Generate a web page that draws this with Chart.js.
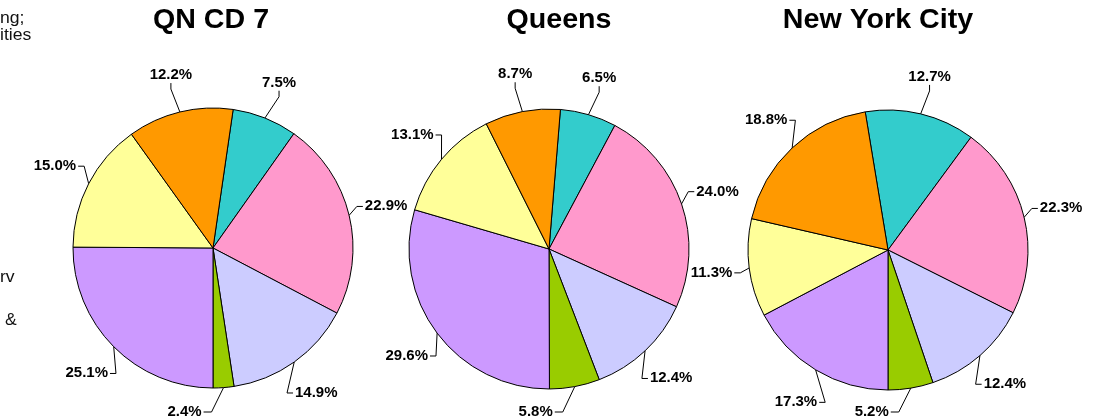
<!DOCTYPE html>
<html lang="en">
<head>
  <meta charset="UTF-8">
  <title>QN CD 7 / Queens / New York City</title>
  <script src="https://cdn.jsdelivr.net/npm/chart.js"></script>
  <style>
    body { margin: 0; background: #fff; }
    #wrap { position: relative; width: 1094px; height: 419px; overflow: hidden; }
    #wrap canvas { position: absolute; left: 0; top: 0; }
  </style>
</head>
<body>

  <div id="wrap">
    <canvas id="pie0" width="1094" height="419"></canvas>
    <canvas id="pie1" width="1094" height="419"></canvas>
    <canvas id="pie2" width="1094" height="419"></canvas>
  </div>

  <script>
    // legend is cropped off the left edge in the source, so the names are generic
    const categories = ['Category 1', 'Category 2', 'Category 3', 'Category 4', 'Category 5', 'Category 6', 'Category 7'];
    const areas = ['QN CD 7', 'Queens', 'New York City'];

    // shares in percent, same category order for every pie
    const qnCd7 = [7.5, 22.9, 14.9, 2.4, 25.1, 15.0, 12.2];
    const queens = [6.5, 24.0, 12.4, 5.8, 29.6, 13.1, 8.7];
    const nyc = [12.7, 22.3, 12.4, 5.2, 17.3, 11.3, 18.8];

    // visible tail ends of the legend text
    const legendBits = ['ng;', 'ities', 'rv', '&'];

    const colors = ['#33CCCC', '#FF99CC', '#CCCCFF', '#99CC00', '#CC99FF', '#FFFF99', '#FF9900'];
    const FONT = '"Liberation Sans", Arial, Helvetica, sans-serif';

    // where each pie sits (centre x, centre y) and its title x
    const panels = [
      { cx: 213, cy: 248, titleX: 211 },
      { cx: 549, cy: 249, titleX: 559 },
      { cx: 888, cy: 250, titleX: 878 }
    ];
    const bitPos = [[0, 23], [0, 40], [0, 282], [5, 325]];
    const R = 140;

    // the source text is a bit wider than the font, so stretch it sideways
    function wideText(ctx, text, x, y, sx) {
      ctx.save();
      ctx.translate(x, y);
      ctx.scale(sx, 1);
      ctx.fillText(text, 0, 0);
      ctx.restore();
    }

    const titlePlugin = {
      id: 'pieTitle',
      afterDraw(chart, args, opts) {
        const ctx = chart.ctx;
        ctx.save();
        ctx.font = 'bold 27px ' + FONT;
        ctx.fillStyle = '#000';
        ctx.textAlign = 'center';
        ctx.textBaseline = 'alphabetic';
        wideText(ctx, opts.text, opts.x, 28, 1.06);
        if (opts.bits) {
          ctx.font = '16px ' + FONT;
          ctx.fillStyle = '#111';
          ctx.textAlign = 'left';
          opts.bits.forEach((b, i) => wideText(ctx, b, bitPos[i][0], bitPos[i][1], 1.1));
        }
        ctx.restore();
      }
    };

    // percent labels outside the pie with elbow leader lines
    const labelPlugin = {
      id: 'pieLabels',
      afterDatasetsDraw(chart, args, opts) {
        const ctx = chart.ctx;
        const meta = chart.getDatasetMeta(0);
        const values = chart.data.datasets[0].data;
        const sx = 1.07;
        ctx.save();
        ctx.font = 'bold 14px ' + FONT;
        ctx.fillStyle = '#000';
        ctx.strokeStyle = '#000';
        ctx.lineWidth = 1;
        ctx.textBaseline = 'middle';
        meta.data.forEach((arc, i) => {
          const p = arc.getProps(['x', 'y', 'startAngle', 'endAngle', 'outerRadius'], true);
          const mid = (p.startAngle + p.endAngle) / 2;
          const c = Math.cos(mid), s = Math.sin(mid);
          const ax = p.x + c * p.outerRadius, ay = p.y + s * p.outerRadius;
          const text = values[i].toFixed(1) + '%';
          const w = ctx.measureText(text).width * sx;
          let lx = p.x + c * (p.outerRadius + 38);
          let ly = p.y + s * (p.outerRadius + 38);
          let pts;
          ctx.textAlign = 'center';
          if (ly > opts.maxY) {
            // falls under the frame: put it on the bottom line, to the left
            const bx = ax - 12;
            ly = opts.maxY;
            pts = [[ax, ay], [bx, ly], [bx - 8, ly]];
            ctx.textAlign = 'right';
            lx = bx - 10;
          } else if (Math.abs(c) > 0.5) {
            const dir = Math.sign(c);
            const tx = lx - dir * (w / 2 + 2);
            pts = [[ax, ay], [tx - dir * 6, ly], [tx, ly]];
          } else {
            const dir = Math.sign(s);
            const ty = ly - dir * 8;
            pts = [[ax, ay], [lx, ty - dir * 6], [lx, ty]];
          }
          ctx.beginPath();
          ctx.moveTo(pts[0][0], pts[0][1]);
          ctx.lineTo(pts[1][0], pts[1][1]);
          ctx.lineTo(pts[2][0], pts[2][1]);
          ctx.stroke();
          wideText(ctx, text, lx, ly, sx);
        });
        ctx.restore();
      }
    };

    function makePie(id, values, k) {
      const pan = panels[k];
      // slice 5 starts straight down
      const before = values.slice(0, 4).reduce((a, b) => a + b, 0);
      const rotation = 180 - before * 3.6;
      const half = R + 0.5;
      return new Chart(document.getElementById(id), {
        type: 'pie',
        data: {
          labels: categories,
          datasets: [{
            data: values,
            backgroundColor: colors,
            borderColor: '#000',
            borderWidth: 1,
            borderAlign: 'center',
            hoverOffset: 0,
            offset: 0
          }]
        },
        options: {
          responsive: false,
          animation: false,
          devicePixelRatio: 1,
          rotation: rotation,
          events: [],
          layout: {
            padding: {
              left: pan.cx - half,
              right: 1094 - pan.cx - half,
              top: pan.cy - half,
              bottom: 419 - pan.cy - half
            }
          },
          plugins: {
            legend: { display: false },
            title: { display: false },
            tooltip: { enabled: false },
            pieTitle: { text: areas[k], x: pan.titleX, bits: k === 0 ? legendBits : null },
            pieLabels: { maxY: 412 }
          }
        },
        plugins: [labelPlugin, titlePlugin]
      });
    }

    makePie('pie0', qnCd7, 0);
    makePie('pie1', queens, 1);
    makePie('pie2', nyc, 2);
  </script>

</body>
</html>
